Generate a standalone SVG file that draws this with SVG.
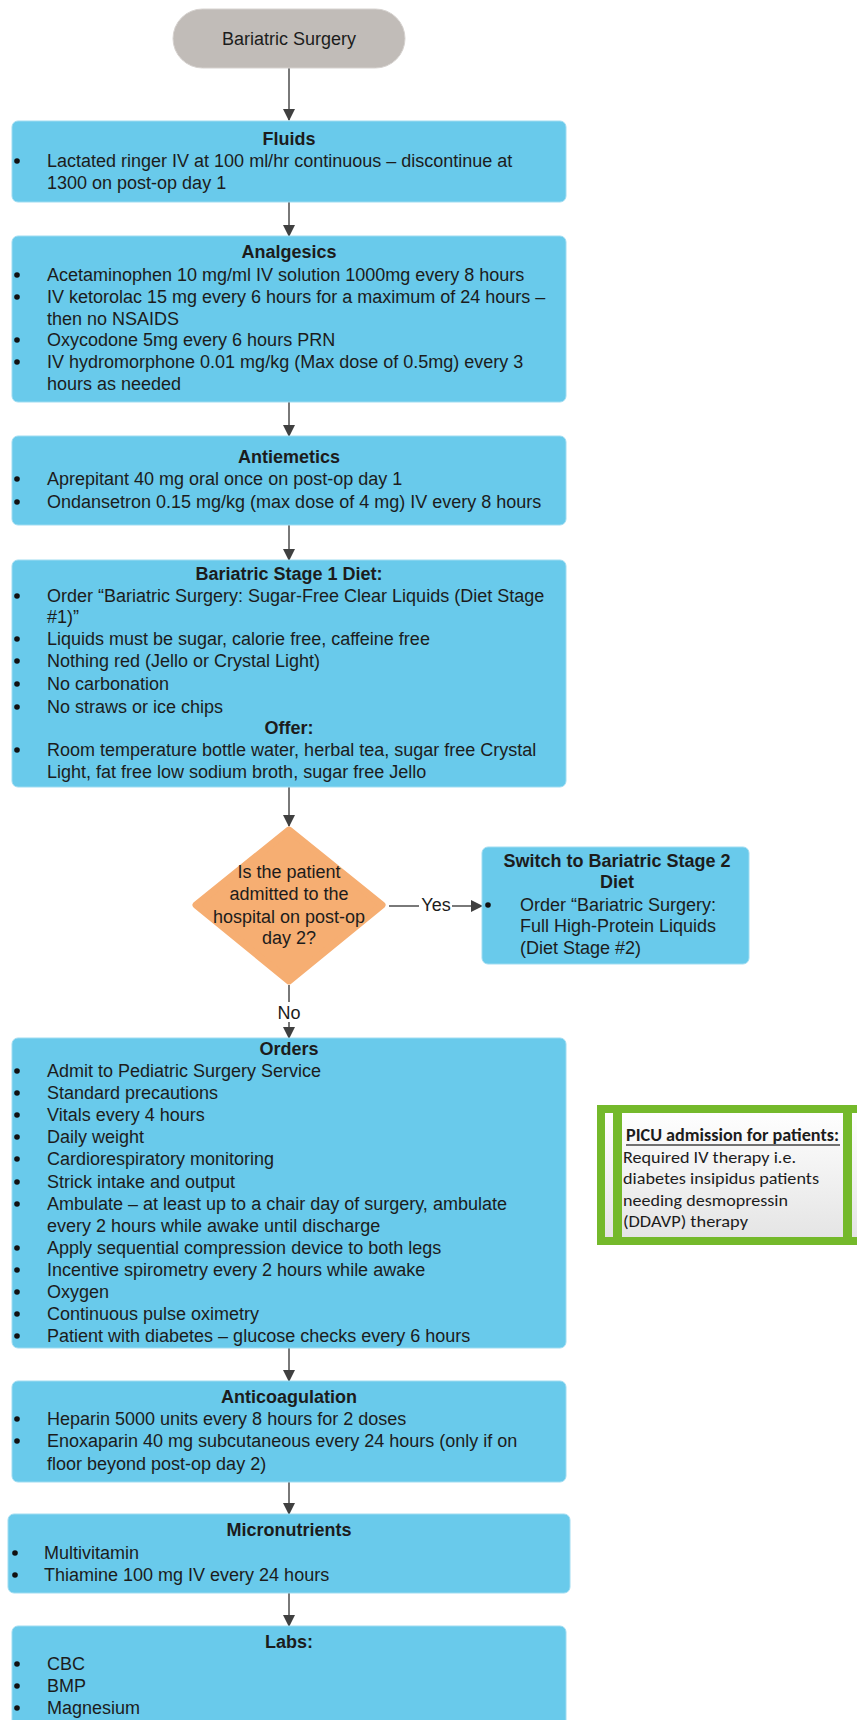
<svg xmlns="http://www.w3.org/2000/svg" width="857" height="1720" viewBox="0 0 857 1720">
<defs>
<style>
.box{fill:#69caeb;stroke:#9fdcf1;stroke-width:1}
.t{font-family:"Liberation Sans",Arial,sans-serif;font-size:18px;fill:#1c1c1c}
.b{font-weight:bold}
.c{text-anchor:middle}
.dot{fill:#111}
.con{stroke:#404040;stroke-width:1.4;fill:none}
.pc{font-family:Carlito,Lato,"Liberation Sans",sans-serif;font-size:17px;fill:#1c1c1c}
</style>
<marker id="ah" viewBox="0 0 12 12" refX="11" refY="6" markerWidth="12" markerHeight="12" markerUnits="userSpaceOnUse" orient="auto">
<path d="M0,0 L12,6 L0,12 z" fill="#404040"/>
</marker>
<linearGradient id="pg" x1="0" y1="0" x2="0" y2="1">
<stop offset="0" stop-color="#ffffff"/>
<stop offset="1" stop-color="#e4e4e4"/>
</linearGradient>
</defs>
<rect width="857" height="1720" fill="#ffffff"/>

<g id="connectors">
<line class="con" x1="289" y1="68" x2="289" y2="120" marker-end="url(#ah)"/>
<line class="con" x1="289" y1="202" x2="289" y2="236" marker-end="url(#ah)"/>
<line class="con" x1="289" y1="402" x2="289" y2="436" marker-end="url(#ah)"/>
<line class="con" x1="289" y1="525" x2="289" y2="560" marker-end="url(#ah)"/>
<line class="con" x1="289" y1="787" x2="289" y2="826" marker-end="url(#ah)"/>
<line class="con" x1="389" y1="906" x2="419" y2="906"/>
<text class="t c" x="436" y="911">Yes</text>
<line class="con" x1="452" y1="906" x2="482" y2="906" marker-end="url(#ah)"/>
<line class="con" x1="289" y1="985" x2="289" y2="1002"/>
<text class="t c" x="289" y="1019">No</text>
<line class="con" x1="289" y1="1022" x2="289" y2="1038" marker-end="url(#ah)"/>
<line class="con" x1="289" y1="1348" x2="289" y2="1381" marker-end="url(#ah)"/>
<line class="con" x1="289" y1="1482" x2="289" y2="1514" marker-end="url(#ah)"/>
<line class="con" x1="289" y1="1593" x2="289" y2="1626" marker-end="url(#ah)"/>
</g>

<g id="start">
<rect x="173" y="9" width="232" height="59" rx="29.5" fill="#c1bcb8" stroke="#d6d2cf" stroke-width="1"/>
<text class="t c" x="289" y="45">Bariatric Surgery</text>
</g>

<g id="fluids">
<rect class="box" x="12" y="121" width="554" height="81" rx="6"/>
<text class="t b c" x="289" y="145">Fluids</text>
<circle class="dot" cx="17" cy="161" r="2.8"/>
<text class="t" x="47" y="167">Lactated ringer IV at 100 ml/hr continuous – discontinue at</text>
<text class="t" x="47" y="189">1300 on post-op day 1</text>
</g>

<g id="analgesics">
<rect class="box" x="12" y="236" width="554" height="166" rx="6"/>
<text class="t b c" x="289" y="258">Analgesics</text>
<circle class="dot" cx="17" cy="275" r="2.8"/>
<text class="t" x="47" y="281">Acetaminophen 10 mg/ml IV solution 1000mg every 8 hours</text>
<circle class="dot" cx="17" cy="297" r="2.8"/>
<text class="t" x="47" y="303">IV ketorolac 15 mg every 6 hours for a maximum of 24 hours –</text>
<text class="t" x="47" y="325">then no NSAIDS</text>
<circle class="dot" cx="17" cy="340" r="2.8"/>
<text class="t" x="47" y="346">Oxycodone 5mg every 6 hours PRN</text>
<circle class="dot" cx="17" cy="362" r="2.8"/>
<text class="t" x="47" y="368">IV hydromorphone 0.01 mg/kg (Max dose of 0.5mg) every 3</text>
<text class="t" x="47" y="390">hours as needed</text>
</g>

<g id="antiemetics">
<rect class="box" x="12" y="436" width="554" height="89" rx="6"/>
<text class="t b c" x="289" y="463">Antiemetics</text>
<circle class="dot" cx="17" cy="479" r="2.8"/>
<text class="t" x="47" y="485">Aprepitant 40 mg oral once on post-op day 1</text>
<circle class="dot" cx="17" cy="502" r="2.8"/>
<text class="t" x="47" y="508">Ondansetron 0.15 mg/kg (max dose of 4 mg) IV every 8 hours</text>
</g>

<g id="stage1">
<rect class="box" x="12" y="560" width="554" height="227" rx="6"/>
<text class="t b c" x="289" y="580">Bariatric Stage 1 Diet:</text>
<circle class="dot" cx="17" cy="596" r="2.8"/>
<text class="t" x="47" y="602">Order “Bariatric Surgery: Sugar-Free Clear Liquids (Diet Stage</text>
<text class="t" x="47" y="623">#1)”</text>
<circle class="dot" cx="17" cy="639" r="2.8"/>
<text class="t" x="47" y="645">Liquids must be sugar, calorie free, caffeine free</text>
<circle class="dot" cx="17" cy="661" r="2.8"/>
<text class="t" x="47" y="667">Nothing red (Jello or Crystal Light)</text>
<circle class="dot" cx="17" cy="684" r="2.8"/>
<text class="t" x="47" y="690">No carbonation</text>
<circle class="dot" cx="17" cy="707" r="2.8"/>
<text class="t" x="47" y="713">No straws or ice chips</text>
<text class="t b c" x="289" y="734">Offer:</text>
<circle class="dot" cx="17" cy="750" r="2.8"/>
<text class="t" x="47" y="756">Room temperature bottle water, herbal tea, sugar free Crystal</text>
<text class="t" x="47" y="778">Light, fat free low sodium broth, sugar free Jello</text>
</g>

<g id="decision">
<polygon points="289,830 382,905 289,981 196,905" fill="#f6ae72" stroke="#f6ae72" stroke-width="7" stroke-linejoin="round"/>
<text class="t c" x="289" y="878">Is the patient</text>
<text class="t c" x="289" y="900">admitted to the</text>
<text class="t c" x="289" y="923">hospital on post-op</text>
<text class="t c" x="289" y="944">day 2?</text>
</g>

<g id="stage2">
<rect class="box" x="482" y="847" width="267" height="117" rx="6"/>
<text class="t b c" x="617" y="867">Switch to Bariatric Stage 2</text>
<text class="t b c" x="617" y="888">Diet</text>
<circle class="dot" cx="488" cy="905" r="2.8"/>
<text class="t" x="520" y="911">Order “Bariatric Surgery:</text>
<text class="t" x="520" y="932">Full High-Protein Liquids</text>
<text class="t" x="520" y="954">(Diet Stage #2)</text>
</g>

<g id="orders">
<rect class="box" x="12" y="1038" width="554" height="310" rx="6"/>
<text class="t b c" x="289" y="1055">Orders</text>
<circle class="dot" cx="17" cy="1071" r="2.8"/>
<text class="t" x="47" y="1077">Admit to Pediatric Surgery Service</text>
<circle class="dot" cx="17" cy="1093" r="2.8"/>
<text class="t" x="47" y="1099">Standard precautions</text>
<circle class="dot" cx="17" cy="1115" r="2.8"/>
<text class="t" x="47" y="1121">Vitals every 4 hours</text>
<circle class="dot" cx="17" cy="1137" r="2.8"/>
<text class="t" x="47" y="1143">Daily weight</text>
<circle class="dot" cx="17" cy="1159" r="2.8"/>
<text class="t" x="47" y="1165">Cardiorespiratory monitoring</text>
<circle class="dot" cx="17" cy="1182" r="2.8"/>
<text class="t" x="47" y="1188">Strick intake and output</text>
<circle class="dot" cx="17" cy="1204" r="2.8"/>
<text class="t" x="47" y="1210">Ambulate – at least up to a chair day of surgery, ambulate</text>
<text class="t" x="47" y="1232">every 2 hours while awake until discharge</text>
<circle class="dot" cx="17" cy="1248" r="2.8"/>
<text class="t" x="47" y="1254">Apply sequential compression device to both legs</text>
<circle class="dot" cx="17" cy="1270" r="2.8"/>
<text class="t" x="47" y="1276">Incentive spirometry every 2 hours while awake</text>
<circle class="dot" cx="17" cy="1292" r="2.8"/>
<text class="t" x="47" y="1298">Oxygen</text>
<circle class="dot" cx="17" cy="1314" r="2.8"/>
<text class="t" x="47" y="1320">Continuous pulse oximetry</text>
<circle class="dot" cx="17" cy="1336" r="2.8"/>
<text class="t" x="47" y="1342">Patient with diabetes – glucose checks every 6 hours</text>
</g>

<g id="picu">
<rect x="601" y="1109" width="263" height="132" fill="url(#pg)" stroke="#74b92b" stroke-width="8"/>
<rect x="613" y="1105" width="9" height="140" fill="#74b92b"/>
<rect x="843" y="1105" width="9" height="140" fill="#74b92b"/>
<text class="pc" x="626" y="1141" font-weight="bold" textLength="213" lengthAdjust="spacingAndGlyphs">PICU admission for patients:</text>
<line x1="626" y1="1145" x2="840" y2="1145" stroke="#444" stroke-width="1.3"/>
<text class="pc" x="623" y="1163" textLength="173" lengthAdjust="spacingAndGlyphs">Required IV therapy i.e.</text>
<text class="pc" x="623" y="1184" textLength="196" lengthAdjust="spacingAndGlyphs">diabetes insipidus patients</text>
<text class="pc" x="623" y="1206" textLength="165" lengthAdjust="spacingAndGlyphs">needing desmopressin</text>
<text class="pc" x="623" y="1227" textLength="125" lengthAdjust="spacingAndGlyphs">(DDAVP) therapy</text>
</g>

<g id="anticoagulation">
<rect class="box" x="12" y="1381" width="554" height="101" rx="6"/>
<text class="t b c" x="289" y="1403">Anticoagulation</text>
<circle class="dot" cx="17" cy="1419" r="2.8"/>
<text class="t" x="47" y="1425">Heparin 5000 units every 8 hours for 2 doses</text>
<circle class="dot" cx="17" cy="1441" r="2.8"/>
<text class="t" x="47" y="1447">Enoxaparin 40 mg subcutaneous every 24 hours (only if on</text>
<text class="t" x="47" y="1470">floor beyond post-op day 2)</text>
</g>

<g id="micronutrients">
<rect class="box" x="8" y="1514" width="562" height="79" rx="6"/>
<text class="t b c" x="289" y="1536">Micronutrients</text>
<circle class="dot" cx="15" cy="1553" r="2.8"/>
<text class="t" x="44" y="1559">Multivitamin</text>
<circle class="dot" cx="15" cy="1575" r="2.8"/>
<text class="t" x="44" y="1581">Thiamine 100 mg IV every 24 hours</text>
</g>

<g id="labs">
<rect class="box" x="12" y="1626" width="554" height="120" rx="6"/>
<text class="t b c" x="289" y="1648">Labs:</text>
<circle class="dot" cx="17" cy="1664" r="2.8"/>
<text class="t" x="47" y="1670">CBC</text>
<circle class="dot" cx="17" cy="1686" r="2.8"/>
<text class="t" x="47" y="1692">BMP</text>
<circle class="dot" cx="17" cy="1708" r="2.8"/>
<text class="t" x="47" y="1714">Magnesium</text>
</g>
</svg>
